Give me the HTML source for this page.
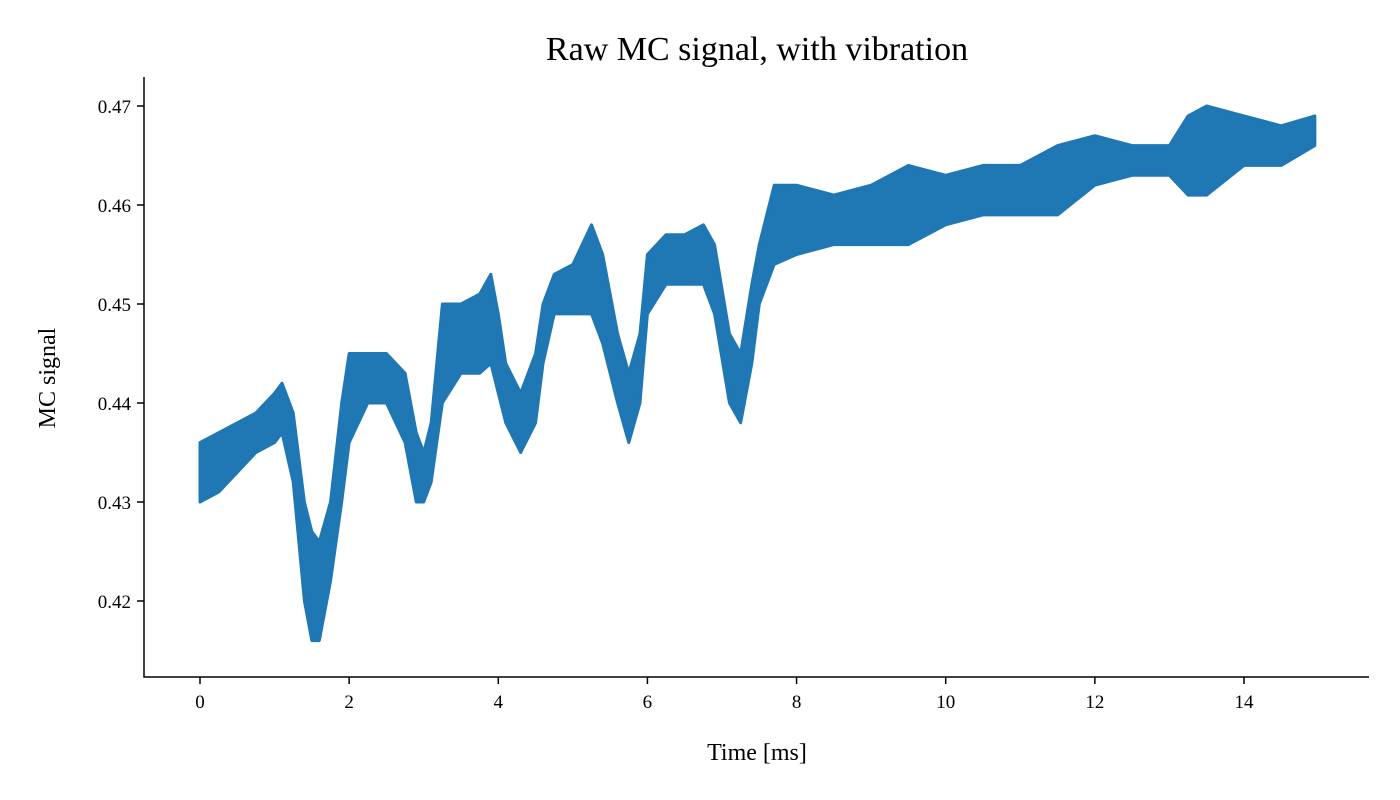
<!DOCTYPE html>
<html><head><meta charset="utf-8"><style>
body{margin:0;background:#fff}
svg{display:block}
text{font-family:"Liberation Serif",serif;fill:#000}
</style></head><body>
<svg id="chart" width="1400" height="800" viewBox="0 0 1400 800" xmlns="http://www.w3.org/2000/svg">
<text x="757" y="60" font-size="34" text-anchor="middle">Raw MC signal, with vibration</text>
<text x="757" y="760" font-size="24" text-anchor="middle">Time [ms]</text>
<text transform="translate(55,378) rotate(-90)" font-size="24" text-anchor="middle">MC signal</text>
<g id="series"></g>
<g id="axes"></g>
</svg>
<script>
const times=[0,0.25,0.5,0.75,1.0,1.1,1.25,1.4,1.5,1.6,1.75,1.9,2.0,2.25,2.5,2.75,2.9,3.0,3.1,3.25,3.5,3.75,3.9,4.0,4.1,4.3,4.5,4.6,4.75,5.0,5.25,5.4,5.6,5.75,5.9,6.0,6.25,6.5,6.75,6.9,7.1,7.25,7.4,7.5,7.7,8.0,8.5,9.0,9.5,10.0,10.5,11.0,11.5,12.0,12.5,13.0,13.25,13.5,14.0,14.5,14.95];
const lowVals=[0.430,0.431,0.433,0.435,0.436,0.437,0.432,0.420,0.416,0.416,0.422,0.430,0.436,0.440,0.440,0.436,0.430,0.430,0.432,0.440,0.443,0.443,0.444,0.441,0.438,0.435,0.438,0.444,0.449,0.449,0.449,0.446,0.440,0.436,0.440,0.449,0.452,0.452,0.452,0.449,0.440,0.438,0.444,0.450,0.454,0.455,0.456,0.456,0.456,0.458,0.459,0.459,0.459,0.462,0.463,0.463,0.461,0.461,0.464,0.464,0.466];
const highVals=[0.436,0.437,0.438,0.439,0.441,0.442,0.439,0.430,0.427,0.426,0.430,0.440,0.445,0.445,0.445,0.443,0.437,0.435,0.438,0.450,0.450,0.451,0.453,0.449,0.444,0.441,0.445,0.450,0.453,0.454,0.458,0.455,0.447,0.443,0.447,0.455,0.457,0.457,0.458,0.456,0.447,0.445,0.452,0.456,0.462,0.462,0.461,0.462,0.464,0.463,0.464,0.464,0.466,0.467,0.466,0.466,0.469,0.470,0.469,0.468,0.469];
const xTicks=[0,2,4,6,8,10,12,14];
const yTicks=[0.42,0.43,0.44,0.45,0.46,0.47];
const NS="http://www.w3.org/2000/svg";
const X=t=>200+t*(1044/14);
const Y=v=>106+(0.47-v)*9900;
const ser=document.getElementById('series'),ax=document.getElementById('axes');
function mk(tag,attrs,parent){const e=document.createElementNS(NS,tag);for(const k in attrs)e.setAttribute(k,attrs[k]);parent.appendChild(e);return e;}
let pts=times.map((t,i)=>X(t)+','+Y(highVals[i]));
for(let i=times.length-1;i>=0;i--)pts.push(X(times[i])+','+Y(lowVals[i]));
const band=mk('polygon',{points:pts.join(' '),fill:'#1f77b4',stroke:'#1f77b4','stroke-width':3,'stroke-linejoin':'round'},ser);


const sp=mk('path',{d:'M144,77 V677 H1369',fill:'none',stroke:'#000','stroke-width':1.5},ax);


xTicks.forEach(t=>{
 const l=mk('line',{x1:X(t),x2:X(t),y1:677,y2:684,stroke:'#000','stroke-width':1.5},ax);
 
 
 const tx=mk('text',{x:X(t),y:708,'font-size':19,'text-anchor':'middle'},ax);
 tx.textContent=t;
 
 
});
yTicks.forEach(v=>{
 const l=mk('line',{x1:137,x2:144,y1:Y(v),y2:Y(v),stroke:'#000','stroke-width':1.5},ax);
 
 
 const tx=mk('text',{x:131,y:Y(v)+7,'font-size':19,'text-anchor':'end'},ax);
 tx.textContent=v.toFixed(2);
 
 
});
</script>
</body></html>
